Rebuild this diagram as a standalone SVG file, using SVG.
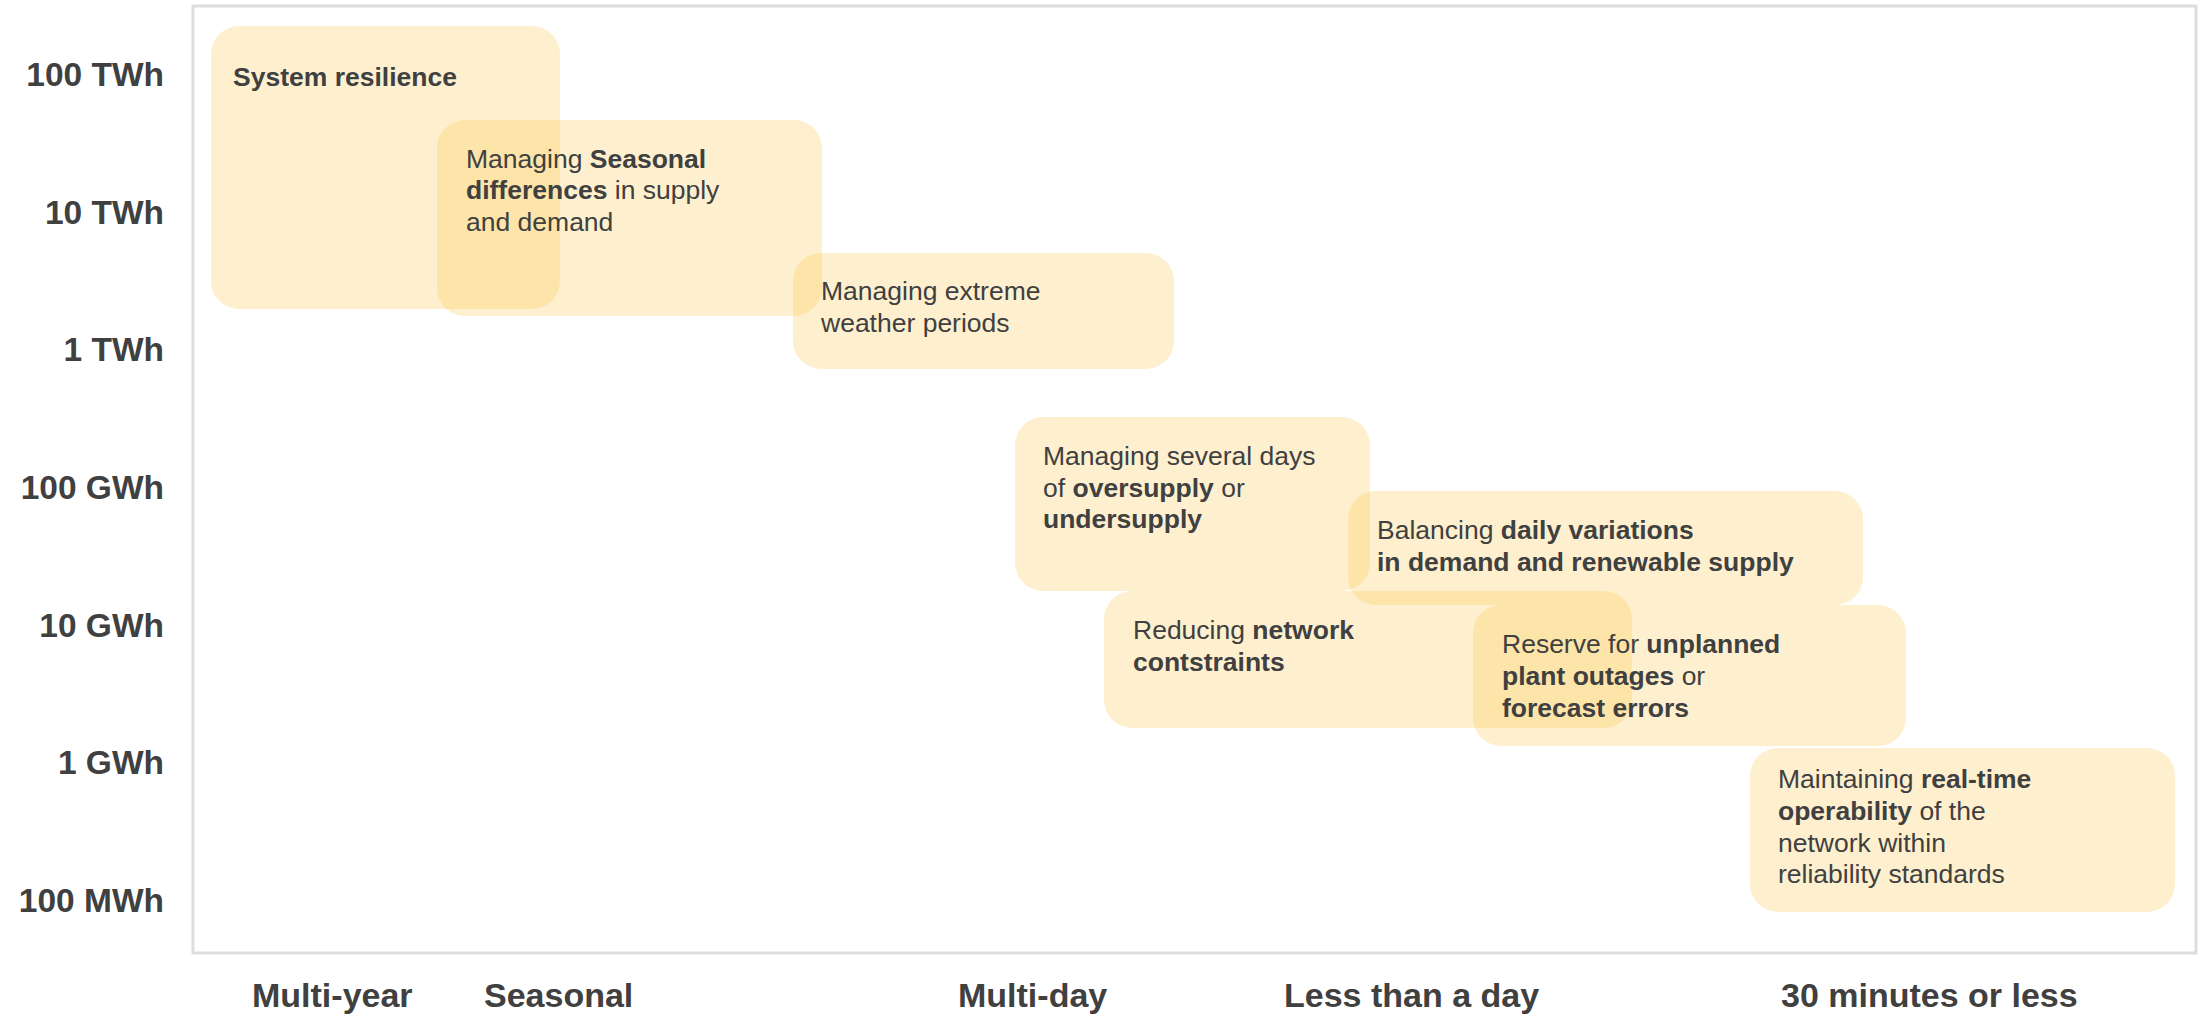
<svg xmlns="http://www.w3.org/2000/svg" width="2205" height="1014" viewBox="0 0 2205 1014">
  <style>
    .box { fill: rgb(250,187,37); fill-opacity: 0.22; }
    .t { font-family: "Liberation Sans", Arial, sans-serif; font-size: 26.5px; fill: #404040; }
    .b { font-weight: bold; }
    .ax { font-family: "Liberation Sans", Arial, sans-serif; font-weight: bold; font-size: 33.5px; fill: #404040; }
    .ay { font-family: "Liberation Sans", Arial, sans-serif; font-weight: bold; font-size: 34px; fill: #404040; }
  </style>
  <rect x="0" y="0" width="2205" height="1014" fill="#ffffff"/>
  <rect id="frame" x="193" y="6" width="2003" height="947" fill="none" stroke="#dddddd" stroke-width="3"/>

  <g id="y-axis">
    <text class="ax" x="164" y="86" text-anchor="end">100 TWh</text>
    <text class="ax" x="164" y="223.7" text-anchor="end">10 TWh</text>
    <text class="ax" x="164" y="361.3" text-anchor="end">1 TWh</text>
    <text class="ax" x="164" y="499" text-anchor="end">100 GWh</text>
    <text class="ax" x="164" y="636.7" text-anchor="end">10 GWh</text>
    <text class="ax" x="164" y="774.3" text-anchor="end">1 GWh</text>
    <text class="ax" x="164" y="912" text-anchor="end">100 MWh</text>
  </g>

  <g id="x-axis">
    <text class="ay" x="252" y="1007">Multi-year</text>
    <text class="ay" x="484" y="1007">Seasonal</text>
    <text class="ay" x="958" y="1007">Multi-day</text>
    <text class="ay" x="1284" y="1007">Less than a day</text>
    <text class="ay" x="1781" y="1007">30 minutes or less</text>
  </g>

  <g id="system-resilience">
    <rect class="box" x="211" y="26" width="349" height="283" rx="28"/>
    <text class="t b" x="233" y="86">System resilience</text>
  </g>

  <g id="seasonal">
    <rect class="box" x="437" y="120" width="385" height="196" rx="28"/>
    <text class="t" x="466" y="167.5">Managing <tspan class="b">Seasonal</tspan></text>
    <text class="t" x="466" y="199"><tspan class="b">differences</tspan> in supply</text>
    <text class="t" x="466" y="230.5">and demand</text>
  </g>

  <g id="extreme-weather">
    <rect class="box" x="793" y="253" width="381" height="116" rx="28"/>
    <text class="t" x="821" y="300">Managing extreme</text>
    <text class="t" x="821" y="332">weather periods</text>
  </g>

  <g id="several-days">
    <rect class="box" x="1015" y="417" width="355" height="174" rx="28"/>
    <text class="t" x="1043" y="465">Managing several days</text>
    <text class="t" x="1043" y="497">of <tspan class="b">oversupply</tspan> or</text>
    <text class="t b" x="1043" y="528">undersupply</text>
  </g>

  <g id="daily-variations">
    <rect class="box" x="1348" y="491" width="515" height="114" rx="28"/>
    <text class="t" x="1377" y="539">Balancing <tspan class="b">daily variations</tspan></text>
    <text class="t b" x="1377" y="571">in demand and renewable supply</text>
  </g>

  <g id="network-constraints">
    <rect class="box" x="1104" y="591" width="528" height="137" rx="28"/>
    <text class="t" x="1133" y="639">Reducing <tspan class="b">network</tspan></text>
    <text class="t b" x="1133" y="671">contstraints</text>
  </g>

  <g id="unplanned-outages">
    <rect class="box" x="1473" y="605" width="433" height="141" rx="28"/>
    <text class="t" x="1502" y="653">Reserve for <tspan class="b">unplanned</tspan></text>
    <text class="t" x="1502" y="685"><tspan class="b">plant outages</tspan> or</text>
    <text class="t b" x="1502" y="717">forecast errors</text>
  </g>

  <g id="real-time">
    <rect class="box" x="1750" y="748" width="425" height="164" rx="28"/>
    <text class="t" x="1778" y="788">Maintaining <tspan class="b">real-time</tspan></text>
    <text class="t" x="1778" y="820"><tspan class="b">operability</tspan> of the</text>
    <text class="t" x="1778" y="852">network within</text>
    <text class="t" x="1778" y="883">reliability standards</text>
  </g>
</svg>
